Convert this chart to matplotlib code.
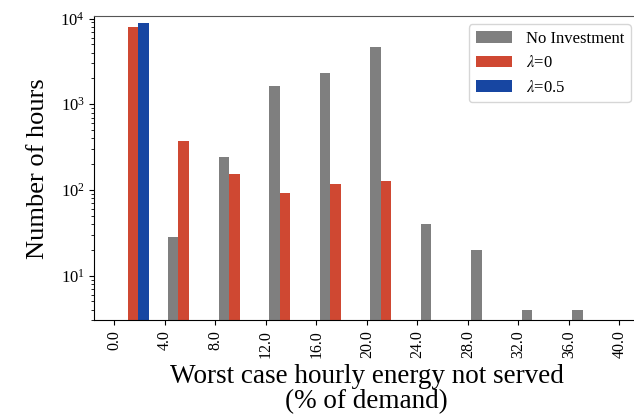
import numpy as np
import matplotlib
matplotlib.use("Agg")
from matplotlib import pyplot as plt

plt.rcParams['font.family'] = ['Liberation Serif', 'DejaVu Serif']
plt.rcParams['mathtext.fontset'] = 'stix'

# bin left edges (% of demand)
bins = [0, 4, 8, 12, 16, 20, 24, 28, 32, 36]
no_invest = [0, 28, 245, 1650, 2300, 4600, 40, 20, 4, 4]
lam0 = [7900, 370, 155, 92, 116, 128, 0, 0, 0, 0]
lam05 = [8760, 0, 0, 0, 0, 0, 0, 0, 0, 0]
xticks = [0, 4, 8, 12, 16, 20, 24, 28, 32, 36, 40]

fig = plt.figure(figsize=(6.34, 4.18), dpi=100)
ax = fig.add_axes([0.149, 0.2333, 0.859, 0.7284])

x = np.array(bins, dtype=float)
w = 0.83
ax.bar(x + 0.27, no_invest, width=w, align='edge', color='#7f7f7f', label='No Investment')
ax.bar(x + 1.10, lam0, width=w, align='edge', color='#cf4832', label=r'$\lambda$=0')
ax.bar(x + 1.93, lam05, width=w, align='edge', color='#1746a2', label=r'$\lambda$=0.5')

ax.set_yscale('log')
ax.set_ylim(3.0, 10700)
ax.set_xlim(-1.55, 41.55)
ax.set_xticks(xticks)
ax.set_xticklabels(['%.1f' % v for v in xticks], rotation=90, fontsize=11.5)
ax.tick_params(axis='y', labelsize=12)

ax.spines['right'].set_visible(False)
ax.spines['top'].set_color('#555555')

ax.set_xlabel('Worst case hourly energy not served\n(% of demand)', fontsize=19.5,
              linespacing=1.05, labelpad=4)
ax.set_ylabel('Number of hours', fontsize=19, labelpad=8)

ax.legend(loc='upper right', fontsize=12, handlelength=2.2)

plt.savefig('out.png', dpi=100)
